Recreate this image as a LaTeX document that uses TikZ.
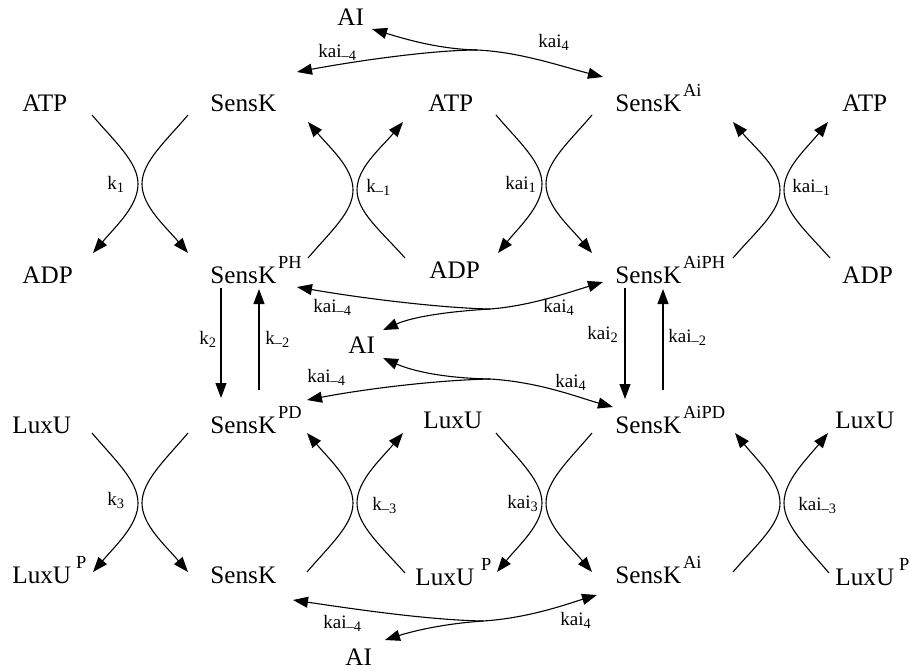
\documentclass[tikz,border=0pt]{standalone}
\usepackage{fontspec}
\setmainfont{Liberation Serif}
\usetikzlibrary{arrows.meta}
\newcommand\Sup[2][1pt]{\hspace{#1}\raisebox{7.5pt}{\fontsize{9.2}{10}\selectfont #2}}
\newcommand\Sub[1]{\raisebox{-1.8pt}{\fontsize{7.2}{8}\selectfont #1}}
\begin{document}
\begin{tikzpicture}[x=0.5pt,y=-0.5pt,
  lbl/.style={anchor=base west,inner sep=0pt,font=\fontsize{12.6}{14}\selectfont},
  rate/.style={anchor=base west,inner sep=0pt,font=\fontsize{9.5}{11}\selectfont},
  arr/.style={line width=0.55pt,-{Triangle[length=7.5pt,width=5.5pt]}},
  ln/.style={line width=0.55pt}]
\useasboundingbox (0,0) rectangle (910,670);
% ---------- species ----------
\node[lbl] (aiT)   at (337,25)  {AI};
\node[lbl] (atpA)  at (22,111)  {ATP};
\node[lbl] (skA)   at (210,111) {SensK};
\node[lbl] (atpB)  at (428,111) {ATP};
\node[lbl] (skAiA) at (615,111) {SensK\Sup{Ai}};
\node[lbl] (atpC)  at (842,111) {ATP};
\node[lbl] (adpA)  at (22,283)  {ADP};
\node[lbl] (skPH)  at (210,283) {SensK\Sup{PH}};
\node[lbl] (adpB)  at (429,278) {ADP};
\node[lbl] (skAiPH) at (615,283) {SensK\Sup{AiPH}};
\node[lbl] (adpC)  at (842,283) {ADP};
\node[lbl] (aiM)   at (348,353) {AI};
\node[lbl] (luxA)  at (12,433)  {LuxU};
\node[lbl] (skPD)  at (210,433) {SensK\Sup{PD}};
\node[lbl] (luxB)  at (423,428) {LuxU};
\node[lbl] (skAiPD) at (615,433) {SensK\Sup{AiPD}};
\node[lbl] (luxC)  at (835,428) {LuxU};
\node[lbl] (luxPA) at (12,583)  {LuxU\Sup[2.5pt]{P}};
\node[lbl] (skB)   at (210,583) {SensK};
\node[lbl] (luxPB) at (415,585) {LuxU\Sup[3.5pt]{P}};
\node[lbl] (skAiB) at (615,583) {SensK\Sup{Ai}};
\node[lbl] (luxPC) at (835,585) {LuxU\Sup[2.5pt]{P}};
\node[lbl] (aiB)   at (345,665) {AI};
% ---------- crossing reactions ----------
% k1 (down)
\coordinate (p1as) at (92,115);  \coordinate (p1ae) at (93,253);
\coordinate (p1bs) at (188,115); \coordinate (p1be) at (188,253);
\draw[arr] (p1as) .. controls +(23,27) and +(0,-22) .. (138,184) .. controls +(0,22) and +(23,-27) .. (p1ae);
\draw[arr] (p1bs) .. controls +(-23,27) and +(0,-22) .. (142,184) .. controls +(0,22) and +(-23,-27) .. (p1be);
% k-1 (up)
\coordinate (p2as) at (308,258); \coordinate (p2ae) at (308,122);
\coordinate (p2bs) at (405,258); \coordinate (p2be) at (403,122);
\draw[arr] (p2as) .. controls +(23,-27) and +(0,22) .. (353,190) .. controls +(0,-22) and +(23,27) .. (p2ae);
\draw[arr] (p2bs) .. controls +(-24,-27) and +(0,22) .. (357,190) .. controls +(0,-22) and +(-23,27) .. (p2be);
% kai1 (down)
\coordinate (p3as) at (496,115); \coordinate (p3ae) at (498,253);
\coordinate (p3bs) at (592,115); \coordinate (p3be) at (592,253);
\draw[arr] (p3as) .. controls +(23,27) and +(0,-22) .. (542,184) .. controls +(0,22) and +(22,-27) .. (p3ae);
\draw[arr] (p3bs) .. controls +(-23,27) and +(0,-22) .. (546,184) .. controls +(0,22) and +(-23,-27) .. (p3be);
% kai-1 (up)
\coordinate (p4as) at (733,258); \coordinate (p4ae) at (733,122);
\coordinate (p4bs) at (830,258); \coordinate (p4be) at (828,122);
\draw[arr] (p4as) .. controls +(23,-27) and +(0,22) .. (780,190) .. controls +(0,-22) and +(23,27) .. (p4ae);
\draw[arr] (p4bs) .. controls +(-24,-27) and +(0,22) .. (784,190) .. controls +(0,-22) and +(-22,27) .. (p4be);
% k3 (down)
\coordinate (p5as) at (92,433);  \coordinate (p5ae) at (93,572);
\coordinate (p5bs) at (188,433); \coordinate (p5be) at (188,572);
\draw[arr] (p5as) .. controls +(23,27) and +(0,-22) .. (138,503) .. controls +(0,22) and +(23,-27) .. (p5ae);
\draw[arr] (p5bs) .. controls +(-23,27) and +(0,-22) .. (142,503) .. controls +(0,22) and +(-23,-27) .. (p5be);
% k-3 (up)
\coordinate (p6as) at (307,572); \coordinate (p6ae) at (307,433);
\coordinate (p6bs) at (405,573); \coordinate (p6be) at (403,433);
\draw[arr] (p6as) .. controls +(23,-27) and +(0,22) .. (353,503) .. controls +(0,-22) and +(23,27) .. (p6ae);
\draw[arr] (p6bs) .. controls +(-24,-27) and +(0,22) .. (357,503) .. controls +(0,-22) and +(-23,27) .. (p6be);
% kai3 (down)
\coordinate (p7as) at (496,433); \coordinate (p7ae) at (497,572);
\coordinate (p7bs) at (592,433); \coordinate (p7be) at (592,572);
\draw[arr] (p7as) .. controls +(23,27) and +(0,-22) .. (542,503) .. controls +(0,22) and +(22,-27) .. (p7ae);
\draw[arr] (p7bs) .. controls +(-23,27) and +(0,-22) .. (546,503) .. controls +(0,22) and +(-23,-27) .. (p7be);
% kai-3 (up)
\coordinate (p8as) at (733,572); \coordinate (p8ae) at (735,433);
\coordinate (p8bs) at (829,573); \coordinate (p8be) at (828,433);
\draw[arr] (p8as) .. controls +(23,-27) and +(0,22) .. (780,503) .. controls +(0,-22) and +(22,27) .. (p8ae);
\draw[arr] (p8bs) .. controls +(-23,-27) and +(0,22) .. (784,503) .. controls +(0,-22) and +(-22,27) .. (p8be);
% ---------- vertical arrows ----------
\coordinate (v1s) at (221,288); \coordinate (v1e) at (221,398);
\coordinate (v2s) at (259,390); \coordinate (v2e) at (259,289);
\coordinate (v3s) at (625,288); \coordinate (v3e) at (625,399);
\coordinate (v4s) at (663,390); \coordinate (v4e) at (663,289);
\draw[arr] (v1s) -- (v1e);
\draw[arr] (v2s) -- (v2e);
\draw[arr] (v3s) -- (v3e);
\draw[arr] (v4s) -- (v4e);
% ---------- AI binding ----------
\coordinate (j1) at (477,50);  \coordinate (l1) at (297,72);  \coordinate (r1) at (603,77);  \coordinate (a1) at (372,29);
\draw[arr] (j1) .. controls (430,50) and (350,62) .. (l1);
\draw[arr] (j1) .. controls (520,52) and (560,66) .. (r1);
\draw[arr] (j1) .. controls (438,49) and (405,39) .. (a1);
\coordinate (j2) at (490,309); \coordinate (l2) at (297,287); \coordinate (r2) at (603,282); \coordinate (a2) at (383,330);
\draw[arr] (j2) .. controls (440,308) and (360,298) .. (l2);
\draw[arr] (j2) .. controls (530,306) and (570,292) .. (r2);
\draw[arr] (j2) .. controls (440,312) and (410,318) .. (a2);
\coordinate (j3) at (490,379); \coordinate (l3) at (307,400); \coordinate (r3) at (613,407); \coordinate (a3) at (383,358);
\draw[arr] (j3) .. controls (440,380) and (370,388) .. (l3);
\draw[arr] (j3) .. controls (540,382) and (580,398) .. (r3);
\draw[arr] (j3) .. controls (440,378) and (410,370) .. (a3);
\coordinate (j4) at (483,621); \coordinate (l4) at (293,600); \coordinate (r4) at (597,595); \coordinate (a4) at (385,640);
\draw[arr] (j4) .. controls (430,620) and (360,610) .. (l4);
\draw[arr] (j4) .. controls (530,618) and (570,603) .. (r4);
\draw[arr] (j4) .. controls (440,624) and (410,632) .. (a4);
% ---------- rate labels ----------
\node[rate] (tk1)   at (107,189) {k\Sub{1}};
\node[rate] (tkm1)  at (366,192) {k\Sub{\textendash1}};
\node[rate] (tka1)  at (505,189) {kai\Sub{1}};
\node[rate] (tkam1) at (792,192) {kai\Sub{\textendash1}};
\node[rate] (tk2)   at (199,344) {k\Sub{2}};
\node[rate] (tkm2)  at (265,344) {k\Sub{\textendash2}};
\node[rate] (tka2)  at (587,339) {kai\Sub{2}};
\node[rate] (tkam2) at (668,342) {kai\Sub{\textendash2}};
\node[rate] (tk3)   at (107,505) {k\Sub{3}};
\node[rate] (tkm3)  at (372,510) {k\Sub{\textendash3}};
\node[rate] (tka3)  at (507,508) {kai\Sub{3}};
\node[rate] (tkam3) at (798,510) {kai\Sub{\textendash3}};
\node[rate] (t4m1)  at (318,57)  {kai\Sub{\textendash4}};
\node[rate] (t4p1)  at (538,47)  {kai\Sub{4}};
\node[rate] (t4m2)  at (313,312) {kai\Sub{\textendash4}};
\node[rate] (t4p2)  at (543,312) {kai\Sub{4}};
\node[rate] (t4m3)  at (307,382) {kai\Sub{\textendash4}};
\node[rate] (t4p3)  at (555,387) {kai\Sub{4}};
\node[rate] (t4m4)  at (323,628) {kai\Sub{\textendash4}};
\node[rate] (t4p4)  at (560,625) {kai\Sub{4}};
\end{tikzpicture}
\end{document}
